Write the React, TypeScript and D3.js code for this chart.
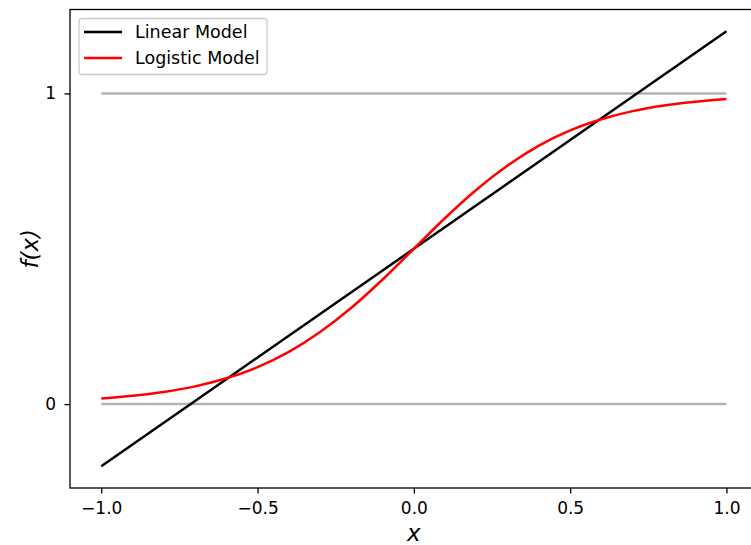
import React, { useEffect, useRef } from 'react';
import * as d3 from 'd3';

// x positions sampled along the curves
const xs = [-1, -0.9, -0.8, -0.7, -0.6, -0.5, -0.4, -0.3, -0.2, -0.1, 0, 0.1, 0.2, 0.3, 0.4, 0.5, 0.6, 0.7, 0.8, 0.9, 1];
// values
const linearValues = [-0.2, -0.13, -0.06, 0.01, 0.08, 0.15, 0.22, 0.29, 0.36, 0.43, 0.5, 0.57, 0.64, 0.71, 0.78, 0.85, 0.92, 0.99, 1.06, 1.13, 1.2];
const logisticValues = [0.018, 0.027, 0.039, 0.057, 0.083, 0.119, 0.168, 0.232, 0.31, 0.401, 0.5, 0.599, 0.69, 0.768, 0.832, 0.881, 0.917, 0.943, 0.961, 0.973, 0.982];
const bounds = [0, 1];
const xTicks = [-1.0, -0.5, 0.0, 0.5, 1.0];
const yTicks = [0, 1];
const seriesNames = ['Linear Model', 'Logistic Model'];
const seriesColors = ['#000000', '#ff0000'];

const App = () => {
  const ref = useRef<SVGSVGElement>(null);

  useEffect(() => {
    const margin = { top: 9.5, left: 70, bottom: 488 };

    const svg = d3.select(ref.current);
    svg.selectAll('*').remove();

    const x = d3.scaleLinear().domain([-1.1, 1.1]).range([margin.left, margin.left + 2.2 * 312.6]);
    const y = d3.scaleLinear().domain([-0.27, 1.27]).range([margin.bottom, margin.top]);

    const font = 'DejaVu Sans, sans-serif';
    const lw = 2.5;

    // horizontal reference lines at 0 and 1
    bounds.forEach(b => {
      svg.append('line')
        .attr('x1', x(-1)).attr('x2', x(1))
        .attr('y1', y(b)).attr('y2', y(b))
        .attr('stroke', '#b3b3b3')
        .attr('stroke-width', lw);
    });

    const line = d3.line<number>()
      .x((_, i) => x(xs[i]))
      .y(d => y(d));

    svg.append('path')
      .attr('d', line(linearValues))
      .attr('fill', 'none')
      .attr('stroke', seriesColors[0])
      .attr('stroke-width', lw);

    svg.append('path')
      .attr('d', line.curve(d3.curveMonotoneX)(logisticValues))
      .attr('fill', 'none')
      .attr('stroke', seriesColors[1])
      .attr('stroke-width', lw);

    // frame
    svg.append('rect')
      .attr('x', x(-1.1)).attr('y', y(1.27))
      .attr('width', x(1.1) - x(-1.1))
      .attr('height', y(-0.27) - y(1.27))
      .attr('fill', 'none')
      .attr('stroke', '#000')
      .attr('stroke-width', 1.3);

    // axes
    const xAxis = svg.append('g')
      .attr('transform', `translate(0, ${y(-0.27)})`)
      .call(d3.axisBottom(x).tickValues(xTicks).tickSize(5.5).tickPadding(8)
        .tickFormat(d => d3.format('.1f')(d as number).replace('-', '\u2212')));
    const yAxis = svg.append('g')
      .attr('transform', `translate(${x(-1.1)}, 0)`)
      .call(d3.axisLeft(y).tickValues(yTicks).tickSize(5.5).tickPadding(8.5).tickFormat(d3.format('d')));

    [xAxis, yAxis].forEach(g => {
      g.attr('font-size', null).attr('font-family', null);
      g.select('.domain').remove();
      g.selectAll('.tick line').attr('stroke', '#000').attr('stroke-width', 1.3);
      g.selectAll('.tick text')
        .attr('font-family', font)
        .attr('font-size', 17)
        .attr('fill', '#000');
    });

    // axis labels
    svg.append('text')
      .attr('x', x(0)).attr('y', 540.5)
      .attr('text-anchor', 'middle')
      .attr('font-family', font).attr('font-style', 'italic').attr('font-size', 23)
      .text('x');

    svg.append('text')
      .attr('transform', `translate(38, ${(y(1.27) + y(-0.27)) / 2}) rotate(-90)`)
      .attr('text-anchor', 'middle')
      .attr('font-family', font).attr('font-style', 'italic').attr('font-size', 23)
      .text('f(x)');

    // legend
    const legend = svg.append('g');
    legend.append('rect')
      .attr('x', 79).attr('y', 18.5)
      .attr('width', 188).attr('height', 56)
      .attr('rx', 3)
      .attr('fill', 'rgba(255,255,255,0.8)')
      .attr('stroke', '#cccccc')
      .attr('stroke-width', 1.3);

    seriesNames.forEach((name, i) => {
      const ly = 32 + i * 26;
      legend.append('line')
        .attr('x1', 84).attr('x2', 122)
        .attr('y1', ly).attr('y2', ly)
        .attr('stroke', seriesColors[i])
        .attr('stroke-width', lw);
      legend.append('text')
        .attr('x', 135).attr('y', ly)
        .attr('dy', '0.35em')
        .attr('font-family', font).attr('font-size', 17.5)
        .attr('fill', '#000')
        .text(name);
    });
  }, []);

  return (
    <svg
      ref={ref}
      width={751}
      height={545}
      style={{ position: 'absolute', left: 0, top: 0, background: '#fff' }}
    />
  );
};

export default App;
